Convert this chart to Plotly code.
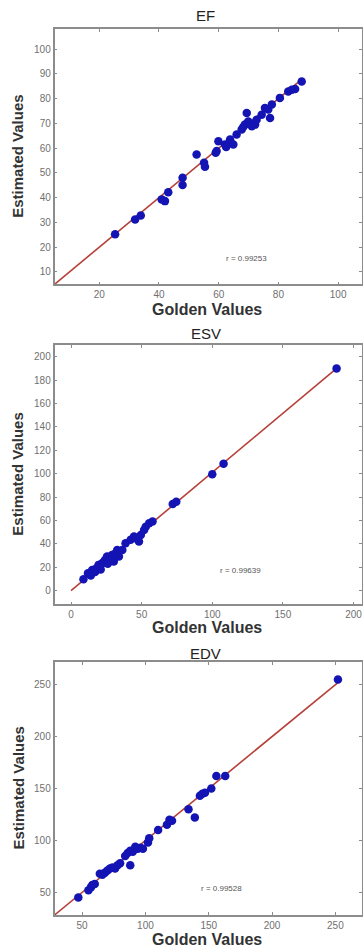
import plotly.graph_objects as go

# ---------------- data ----------------
ef_golden = [25.3, 32.0, 33.9, 40.9, 42.0, 43.1, 47.9, 47.9, 52.6, 55.1, 55.4, 59.0, 59.3, 59.9,
             62.1, 62.5, 63.8, 64.2, 64.9, 66.0, 67.7, 68.2, 68.8, 69.4, 69.9, 70.5, 71.1, 72.2,
             72.7, 74.4, 75.5, 76.6, 77.2, 77.8, 80.5, 83.3, 84.5, 85.6, 87.8]
ef_estimated = [25.2, 31.2, 32.8, 39.3, 38.6, 42.2, 48.0, 45.1, 57.4, 54.1, 52.5, 58.1, 58.8, 62.8,
                61.5, 60.5, 63.5, 62.0, 61.5, 65.5, 67.5, 68.5, 69.5, 74.2, 70.8, 69.8, 68.8, 69.5,
                71.5, 73.5, 76.2, 75.6, 72.2, 77.6, 80.3, 82.9, 83.6, 83.9, 86.9]
ef_fit_x = [5, 88]
ef_fit_y = [5, 88]
ef_r = "r = 0.99253"

esv_golden = [8.8, 12, 14, 15, 17, 18, 19.5, 21, 22, 23, 24, 25.5, 26, 28, 29, 30, 30.3, 31.5,
              32.7, 33.9, 36.3, 38.6, 42.2, 44.6, 45.8, 48.1, 49.4, 51.7, 52.9, 55.3, 57.7, 72,
              74.5, 100, 108, 188]
esv_estimated = [9.7, 14.8, 13, 17.7, 16, 19.1, 22, 18, 23.4, 24, 26.2, 29.1, 23, 27.7, 30.5, 27,
                 24.8, 31.9, 34.8, 29.1, 34.8, 40.5, 43.4, 46.2, 44.8, 41.9, 47.6, 51.9, 54.7,
                 57.6, 59, 74.1, 76, 99.4, 108.5, 190]
esv_fit_x = [0, 188]
esv_fit_y = [0, 190]
esv_r = "r = 0.99639"

edv_golden = [47, 55, 57, 58, 60, 64, 66, 68, 70, 72, 74, 76, 78, 80, 84, 86, 88, 88, 90, 92, 94,
              96, 98, 102, 103, 110, 117, 119, 121, 134, 139, 143, 145, 147, 152, 156, 163, 252]
edv_estimated = [45, 52, 55, 57, 58, 68, 67, 69, 71, 73, 74, 73, 76, 78, 85, 88, 90, 76, 89, 94,
                 92, 93, 92, 98, 102, 110, 115, 120, 119, 130, 122, 143, 145, 146, 150, 162, 162,
                 255]
edv_fit_x = [28, 252]
edv_fit_y = [28, 252]
edv_r = "r = 0.99528"

titles = ["EF", "ESV", "EDV"]
x_label = "Golden Values"
y_label = "Estimated Values"

ef_xticks = [20, 40, 60, 80, 100]
ef_yticks = [10, 20, 30, 40, 50, 60, 70, 80, 90, 100]
esv_xticks = [0, 50, 100, 150, 200]
esv_yticks = [0, 20, 40, 60, 80, 100, 120, 140, 160, 180, 200]
edv_xticks = [50, 100, 150, 200, 250]
edv_yticks = [50, 100, 150, 200, 250]

# ---------------- layout geometry ----------------
W, H = 363, 947
def px_y(p):
    return 1 - p / H
def px_x(p):
    return p / W

xdom = [px_x(54.5), px_x(362)]
boxes = [(29.3, 284.3), (345, 604.3), (662, 915)]  # top, bottom in pixels

LINE_C = "#8c8c8c"
MARK_C = "#1414b4"
FIT_C = "#b5403a"
FONT = "Liberation Sans"

fig = go.Figure()

datasets = [
    (ef_golden, ef_estimated, ef_fit_x, ef_fit_y, [5, 108], [5, 108], ef_xticks, ef_yticks),
    (esv_golden, esv_estimated, esv_fit_x, esv_fit_y, [-11.7, 206], [-11.7, 210], esv_xticks, esv_yticks),
    (edv_golden, edv_estimated, edv_fit_x, edv_fit_y, [28.2, 271], [28.2, 271.8], edv_xticks, edv_yticks),
]

for i, (gx, ey, fx, fy, xr, yr, xt, yt) in enumerate(datasets):
    n = "" if i == 0 else str(i + 1)
    fig.add_trace(go.Scatter(x=fx, y=fy, mode="lines", line=dict(color=FIT_C, width=1.6),
                             xaxis="x" + n, yaxis="y" + n, showlegend=False, hoverinfo="skip"))
    fig.add_trace(go.Scatter(x=gx, y=ey, mode="markers",
                             marker=dict(color=MARK_C, size=8.5, line=dict(width=0)),
                             xaxis="x" + n, yaxis="y" + n, showlegend=False))
    top, bot = boxes[i]
    common = dict(showline=True, linecolor=LINE_C, linewidth=1.5, mirror="allticks",
                  ticks="inside", ticklen=3, tickcolor=LINE_C, tickwidth=1,
                  tickfont=dict(size=10, color="#707070", family=FONT),
                  ticklabeloverflow="allow",
                  showgrid=False, zeroline=False)
    fig.update_layout(**{
        "xaxis" + n: dict(domain=xdom, range=xr, tickvals=xt, anchor="y" + n, **common),
        "yaxis" + n: dict(domain=[px_y(bot), px_y(top)], range=yr, tickvals=yt,
                          anchor="x" + n, **common),
    })

# text annotations
anns = []
title_y = [15, 333, 653]
xlab_y = [310, 627, 939]
r_pos = [(246, 258, ef_r), (240, 570, esv_r), (221, 888, edv_r)]
for i in range(3):
    top, bot = boxes[i]
    anns.append(dict(text=titles[i], x=px_x(206), y=px_y(title_y[i]), xref="paper", yref="paper",
                     showarrow=False, xanchor="center", yanchor="middle",
                     font=dict(size=15, color="#222222", family=FONT)))
    anns.append(dict(text="<b>" + x_label + "</b>", x=px_x(207), y=px_y(xlab_y[i]), xref="paper",
                     yref="paper", showarrow=False, xanchor="center", yanchor="middle",
                     font=dict(size=16, color="#333333", family=FONT)))
    anns.append(dict(text="<b>" + y_label + "</b>", x=px_x(18), y=px_y((top + bot) / 2),
                     xref="paper", yref="paper", showarrow=False, textangle=-90,
                     xanchor="center", yanchor="middle",
                     font=dict(size=15, color="#333333", family=FONT)))
    rx, ry, rt = r_pos[i]
    anns.append(dict(text=rt, x=px_x(rx), y=px_y(ry), xref="paper", yref="paper",
                     showarrow=False, xanchor="center", yanchor="middle",
                     font=dict(size=8, color="#555555", family=FONT)))

fig.update_layout(width=W, height=H, margin=dict(l=0, r=0, t=0, b=0),
                  paper_bgcolor="white", plot_bgcolor="white", annotations=anns,
                  showlegend=False)

fig.write_html("out.html", config={"displayModeBar": False},
               post_script="document.body.style.margin='0';"
                           "document.body.style.overflow='hidden';"
                           "document.documentElement.style.overflow='hidden';")
